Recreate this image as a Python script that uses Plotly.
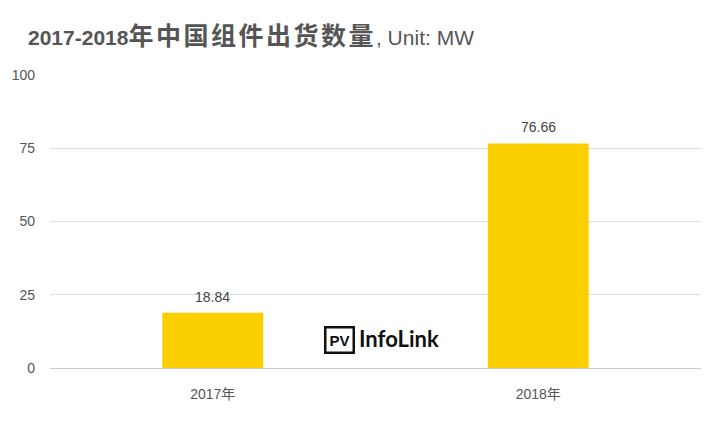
import plotly.graph_objects as go

categories = ["2017年", "2018年"]
values = [18.84, 76.66]
value_labels = ["18.84", "76.66"]
tick_vals = [0, 25, 50, 75, 100]

FONT = "Liberation Sans, Noto Sans CJK SC, sans-serif"

L, R, T, B = 47.5, 15.5, 75, 54
W, H = 717, 422
PW, PH = W - L - R, H - T - B


def px(x):
    return (x - L) / PW


def py(y):
    return (H - B - y) / PH


fig = go.Figure()
fig.add_trace(go.Bar(
    x=categories, y=values,
    marker=dict(color="#FCD000", line=dict(width=0)),
    hoverinfo="x+y",
))

for c, v, t in zip(categories, values, value_labels):
    fig.add_annotation(
        x=c, y=v, text=t, showarrow=False, yanchor="middle", yshift=16,
        font=dict(size=14, color="#444444", family=FONT),
    )

fig.update_layout(
    width=W, height=H,
    margin=dict(l=L, r=R, t=T, b=B),
    paper_bgcolor="white", plot_bgcolor="white",
    font=dict(family=FONT, color="#555555"),
    bargap=0.69,
    showlegend=False,
    title=dict(
        text="<b>2017-2018<span style='font-size:25px;letter-spacing:2.5px'>年中国组件出货数量</span></b>, Unit: MW",
        x=28/W, xanchor="left", y=1-38/H, yanchor="middle",
        font=dict(size=21, color="#555555", family=FONT),
    ),
    xaxis=dict(
        showgrid=False, zeroline=False, showline=False,
        tickfont=dict(size=14, color="#555555"),
        ticks="", ticklabelstandoff=16,
    ),
    yaxis=dict(
        range=[0, 100], tickvals=tick_vals,
        showgrid=True, gridcolor="#DDDDDD", gridwidth=1,
        zeroline=True, zerolinecolor="#CCCCCC", zerolinewidth=1,
        showline=False, ticks="",
        tickfont=dict(size=14, color="#555555"),
        ticklabelstandoff=14,
    ),
)

fig.add_annotation(
    x=px(338), y=py(354), xref="paper", yref="paper",
    text="<b>PV</b>", showarrow=False,
    font=dict(size=15, color="#111111", family="Liberation Sans, sans-serif"),
    bordercolor="#111111", borderwidth=2.5, borderpad=3, bgcolor="white",
)
fig.add_annotation(
    x=px(356), y=py(354), xref="paper", yref="paper", xanchor="left",
    text="<b>InfoLink</b>", showarrow=False,
    font=dict(size=22, color="#111111", family="Lato, Roboto, sans-serif"),
)

fig.write_html(
    "out.html",
    config={"displayModeBar": False},
    post_script="document.body.style.margin='0';document.body.style.padding='0';",
)
